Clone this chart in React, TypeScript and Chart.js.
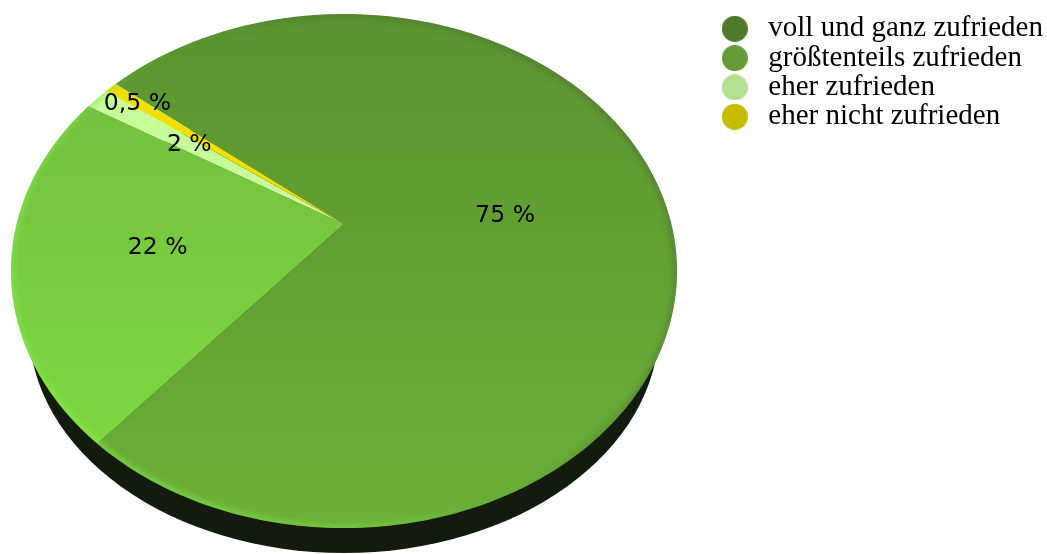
import React, { useEffect, useRef } from "react";
import { Chart, registerables } from "chart.js";

Chart.register(...registerables);

const categories = ["voll und ganz zufrieden", "größtenteils zufrieden", "eher zufrieden", "eher nicht zufrieden"];
// wedge sizes as measured on the picture (the printed labels are rounded)
const shares = [75.5, 22.5, 1.4, 0.7];
const valueLabels = ["75 %", "22 %", "2 %", "0,5 %"];
const legendColors = ["#4d7a2b", "#659c38", "#b4df90", "#c8bc00"];
const sliceTop = ["#5a932f", "#71bb3d", "#c6fd96", "#eee000"];
const sliceBottom = ["#6bb038", "#80dc41", "#c6fd96", "#eee000"];
const labelRadius = [0.5, 0.57, 0.6, 0.87];
const labelNudgeX = [-0.5, 1, -1, -1];
const labelNudgeY = [3, 1, -1, 0];

// Perspective projection of the tilted disc onto the canvas.
const disc = { cx: 344, apexY: 224, a: 327.4, b: 248.4, k: 0.183, top: 14, bottom: 528 };
const base = { cy: 327, rx: 315, ry: 226 };

function project(theta: number, r: number) {
  const u = r * Math.cos(theta);
  const v = r * Math.sin(theta);
  const s = 1 - disc.k * v;
  return { x: disc.cx + (disc.a * u) / s, y: disc.apexY + (disc.b * v) / s };
}

function traceRim(ctx: CanvasRenderingContext2D) {
  ctx.beginPath();
  for (let i = 0; i <= 360; i++) {
    const p = project((i / 180) * Math.PI, 1);
    if (i === 0) ctx.moveTo(p.x, p.y);
    else ctx.lineTo(p.x, p.y);
  }
  ctx.closePath();
}

const discPlugin = {
  id: "perspectiveDisc",
  beforeDatasetDraw(chart: any) {
    const ctx: CanvasRenderingContext2D = chart.ctx;
    const arcs = chart.getDatasetMeta(0).data;
    ctx.save();
    ctx.beginPath();
    ctx.ellipse(disc.cx, base.cy, base.rx, base.ry, 0, 0, Math.PI * 2);
    ctx.fillStyle = "#131a0e";
    ctx.fill();
    arcs.forEach((arc: any, i: number) => {
      const steps = Math.max(2, Math.ceil(((arc.endAngle - arc.startAngle) * 180) / Math.PI));
      const apex = project(0, 0);
      ctx.beginPath();
      ctx.moveTo(apex.x, apex.y);
      for (let s = 0; s <= steps; s++) {
        const p = project(arc.startAngle + ((arc.endAngle - arc.startAngle) * s) / steps, 1);
        ctx.lineTo(p.x, p.y);
      }
      ctx.closePath();
      const g = ctx.createLinearGradient(0, disc.top, 0, disc.bottom);
      g.addColorStop(0, sliceTop[i]);
      g.addColorStop(1, sliceBottom[i]);
      ctx.fillStyle = g;
      ctx.fill();
    });
    // soft rim light on the disc edge: dark towards upper right, bright towards lower left
    ctx.save();
    traceRim(ctx);
    ctx.clip();
    const rim = ctx.createLinearGradient(640, 120, 130, 500);
    rim.addColorStop(0, "rgba(75,90,60,0.6)");
    rim.addColorStop(0.35, "rgba(75,95,60,0.4)");
    rim.addColorStop(0.52, "rgba(100,160,60,0.2)");
    rim.addColorStop(0.7, "rgba(125,225,70,0.65)");
    rim.addColorStop(1, "rgba(135,240,80,0.8)");
    ctx.filter = "blur(3px)";
    ctx.strokeStyle = rim;
    ctx.lineWidth = 5;
    traceRim(ctx);
    ctx.stroke();
    ctx.restore();
    ctx.restore();
    return false;
  },
  afterDatasetsDraw(chart: any) {
    const ctx: CanvasRenderingContext2D = chart.ctx;
    const arcs = chart.getDatasetMeta(0).data;
    ctx.save();
    ctx.font = '23.5px "DejaVu Sans"';
    ctx.fillStyle = "#000";
    ctx.textAlign = "center";
    ctx.textBaseline = "middle";
    arcs.forEach((arc: any, i: number) => {
      const p = project((arc.startAngle + arc.endAngle) / 2, labelRadius[i]);
      ctx.fillText(valueLabels[i], p.x + labelNudgeX[i], p.y + labelNudgeY[i]);
    });
    ctx.restore();
  },
};

function dot(color: string) {
  const c = document.createElement("canvas");
  c.width = 26;
  c.height = 26;
  const x = c.getContext("2d")!;
  x.fillStyle = color;
  x.beginPath();
  x.arc(13, 13, 13, 0, Math.PI * 2);
  x.fill();
  return c;
}

export default function App() {
  const ref = useRef<HTMLCanvasElement>(null);
  useEffect(() => {
    const chart = new Chart(ref.current!, {
      type: "pie",
      data: {
        labels: categories,
        datasets: [{ data: shares, backgroundColor: legendColors, borderWidth: 0 }],
      },
      options: {
        animation: false,
        responsive: false,
        rotation: 308.9,
        layout: { padding: { top: 14 } },
        plugins: {
          tooltip: { enabled: false },
          legend: {
            position: "right",
            align: "start",
            labels: {
              usePointStyle: true,
              pointStyleWidth: 38,
              padding: 0.3,
              color: "#1a1a1a",
              font: { family: '"Liberation Serif"', size: 29, lineHeight: 1 },
              generateLabels: () =>
                categories.map((text, i) => ({
                  text,
                  fillStyle: legendColors[i],
                  strokeStyle: legendColors[i],
                  lineWidth: 0,
                  hidden: false,
                  index: i,
                  pointStyle: dot(legendColors[i]) as any,
                })),
            },
          },
        },
      },
      plugins: [
        discPlugin as any,
        {
          id: "legendPlacement",
          afterLayout(c: any) {
            c.legend.left = 715.5;
          },
        },
      ],
    });
    return () => chart.destroy();
  }, []);
  return (
    <canvas
      ref={ref}
      width={1047}
      height={554}
      style={{ position: "absolute", left: 0, top: 0, width: 1047, height: 554, display: "block" }}
    />
  );
}
